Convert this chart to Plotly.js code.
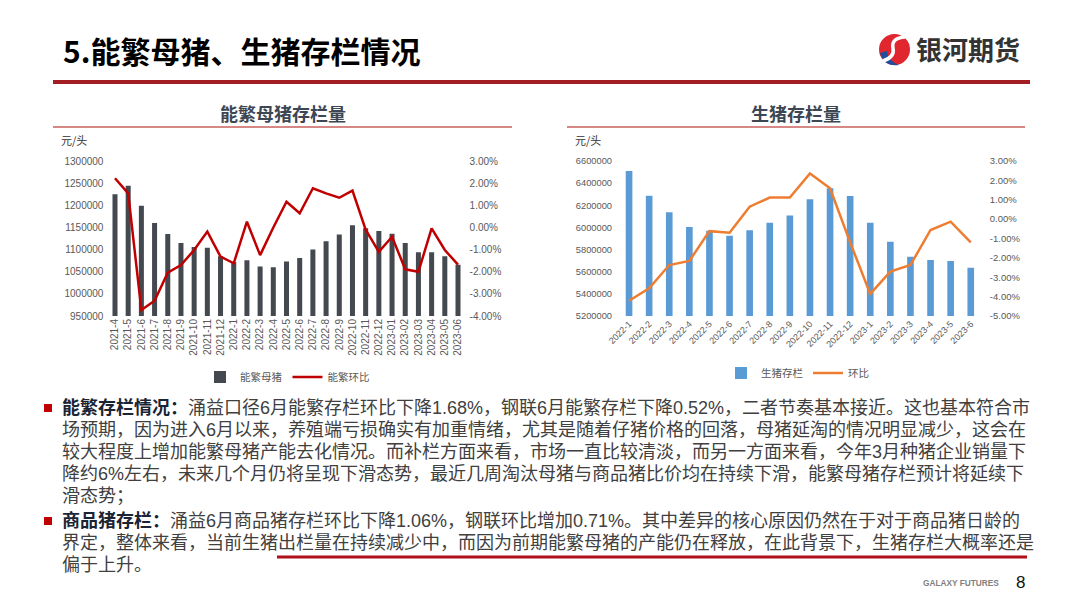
<!DOCTYPE html>
<html>
<head>
<meta charset="utf-8">
<script src="https://cdn.plot.ly/plotly-3.0.1.min.js"></script>
<style>
  html, body { margin: 0; padding: 0; background: #ffffff; }
  #wrap { position: relative; width: 1080px; height: 608px; overflow: hidden; }
  #page { position: absolute; left: 0; top: 0; width: 1080px; height: 608px; }
  .note { position: absolute; left: 62px; font-family: "Liberation Sans", "Noto Sans CJK SC", sans-serif;
          font-size: 18px; color: #404040; }
  .note .ln { height: 22px; line-height: 22px; white-space: nowrap; overflow: visible; }
  .note b { color: #1b2433; }
</style>
</head>
<body>
<div id="wrap">
  <div id="page"></div>
  <div class="note" id="sowNote" style="top:397px"></div>
  <div class="note" id="hogNote" style="top:510px"></div>
</div>
<script>
// 能繁母猪存栏 (元/头) and month-on-month change (%)
const sowMonths = ['2021-4','2021-5','2021-6','2021-7','2021-8','2021-9','2021-10','2021-11','2021-12',
  '2022-1','2022-2','2022-3','2022-4','2022-5','2022-6','2022-7','2022-8','2022-9','2022-10','2022-11','2022-12',
  '2023-01','2023-02','2023-03','2023-04','2023-05','2023-06'];
const sowStock = [1225000,1244000,1199000,1160000,1135000,1115000,1106000,1104000,1085000,
  1072000,1076000,1062000,1060000,1073000,1081000,1100000,1119000,1134000,1155000,1148000,1142000,
  1136000,1115000,1094000,1094000,1085000,1066000];
const sowMoM = [2.22,1.54,-3.73,-3.31,-2.04,-1.70,-1.02,-0.19,-1.32,
  -1.62,0.26,-1.25,0.00,1.16,0.64,1.77,1.54,1.34,1.66,-0.10,-1.10,
  -0.42,-1.89,-2.00,-0.04,-1.02,-1.68];

// 生猪存栏 and month-on-month change (%)
const hogMonths = ['2022-1','2022-2','2022-3','2022-4','2022-5','2022-6','2022-7','2022-8','2022-9',
  '2022-10','2022-11','2022-12','2023-1','2023-2','2023-3','2023-4','2023-5','2023-6'];
const hogStock = [6510000,6287000,6137000,6004000,5970000,5924000,5974000,6043000,6108000,
  6254000,6353000,6284000,6043000,5871000,5736000,5706000,5697000,5636000];
const hogMoM = [-4.21,-3.57,-2.37,-2.16,-0.62,-0.70,0.64,1.11,1.11,
  2.36,1.59,-1.20,-3.86,-2.71,-2.37,-0.56,-0.13,-1.20];

// axis tick values
const sowStockTicks = [950000,1000000,1050000,1100000,1150000,1200000,1250000,1300000];
const sowPctTicks = [-4,-3,-2,-1,0,1,2,3];
const hogStockTicks = [5200000,5400000,5600000,5800000,6000000,6200000,6400000,6600000];
const hogPctTicks = [-5,-4,-3,-2,-1,0,1,2,3];
const pctText = v => v.toFixed(2) + '%';

// page text
const pageTitle = '5.能繁母猪、生猪存栏情况';
const brandName = '银河期货';
const sowChartTitle = '能繁母猪存栏量';
const hogChartTitle = '生猪存栏量';
const unitLabel = '元/头';
const sowNoteLabel = '能繁存栏情况：';
const sowNoteLines = [
  '涌益口径6月能繁存栏环比下降1.68%，钢联6月能繁存栏下降0.52%，二者节奏基本接近。这也基本符合市',
  '场预期，因为进入6月以来，养殖端亏损确实有加重情绪，尤其是随着仔猪价格的回落，母猪延淘的情况明显减少，这会在',
  '较大程度上增加能繁母猪产能去化情况。而补栏方面来看，市场一直比较清淡，而另一方面来看，今年3月种猪企业销量下',
  '降约6%左右，未来几个月仍将呈现下滑态势，最近几周淘汰母猪与商品猪比价均在持续下滑，能繁母猪存栏预计将延续下',
  '滑态势；'
];
const hogNoteLabel = '商品猪存栏：';
const hogNoteLines = [
  '涌益6月商品猪存栏环比下降1.06%，钢联环比增加0.71%。其中差异的核心原因仍然在于对于商品猪日龄的',
  '界定，整体来看，当前生猪出栏量在持续减少中，而因为前期能繁母猪的产能仍在释放，在此背景下，生猪存栏大概率还是',
  '偏于上升。'
];

// commentary paragraphs, one block per line
function fillNote(id, label, lines) {
  const box = document.getElementById(id);
  lines.forEach((t, i) => {
    const d = document.createElement('div');
    d.className = 'ln';
    if (i === 0) {
      const b = document.createElement('b');
      b.textContent = label;
      d.appendChild(b);
    }
    d.appendChild(document.createTextNode(t));
    box.appendChild(d);
  });
}
fillNote('sowNote', sowNoteLabel, sowNoteLines);
fillNote('hogNote', hogNoteLabel, hogNoteLines);

// pixel -> paper helpers for the 1080x608 page
const W = 1080, H = 608;
const px = x => x / W;
const py = y => 1 - y / H;

const CJK = 'Noto Sans CJK SC, Noto Sans, sans-serif';
const NUM = 'Liberation Sans, Arial, sans-serif';
const tickGray = '#595959';

const traces = [
  { type: 'bar', name: '能繁母猪', x: sowMonths, y: sowStock, xaxis: 'x', yaxis: 'y',
    marker: { color: '#44484f' }, width: 0.38, legend: 'legend' },
  { type: 'scatter', mode: 'lines', name: '能繁环比', x: sowMonths, y: sowMoM, xaxis: 'x', yaxis: 'y2',
    line: { color: '#c00000', width: 2.5 }, legend: 'legend' },
  { type: 'bar', name: '生猪存栏', x: hogMonths, y: hogStock, xaxis: 'x2', yaxis: 'y3',
    marker: { color: '#5b9bd5' }, width: 0.33, legend: 'legend2' },
  { type: 'scatter', mode: 'lines', name: '环比', x: hogMonths, y: hogMoM, xaxis: 'x2', yaxis: 'y4',
    line: { color: '#ed7d31', width: 2.5 }, legend: 'legend2' }
];

const plotTop = 161, plotBottom = 316;
const yDom = [py(plotBottom), py(plotTop)];

function rule(x0, x1, y, color, width) {
  return { type: 'line', xref: 'paper', yref: 'paper', x0: px(x0), x1: px(x1), y0: py(y), y1: py(y),
    line: { color: color, width: width } };
}
function pPath(cmds) {
  // cmds: [letter, x, y, x, y, ...] in page pixels
  return cmds.map(c => c[0] + ' ' + c.slice(1).map((v, i) => (i % 2 === 0 ? px(v) : py(v)).toFixed(5)).join(',')).join(' ');
}

const shapes = [
  rule(53, 1030, 82, '#a31d24', 4),
  rule(53, 512, 127, '#c9605c', 1.5),
  rule(567, 1025, 127, '#c9605c', 1.5),
  rule(277, 1027, 557, '#b0101a', 3),
  // bullets
  { type: 'rect', xref: 'paper', yref: 'paper', x0: px(44), x1: px(52), y0: py(412), y1: py(404),
    fillcolor: '#c00000', line: { width: 0 } },
  { type: 'rect', xref: 'paper', yref: 'paper', x0: px(44), x1: px(52), y0: py(525), y1: py(517),
    fillcolor: '#c00000', line: { width: 0 } },
  // brand mark
  { type: 'circle', xref: 'paper', yref: 'paper', x0: px(879), x1: px(910), y0: py(65), y1: py(34),
    fillcolor: '#e0262f', line: { width: 0 } },
  { type: 'path', xref: 'paper', yref: 'paper',
    path: pPath([['M', 880, 53], ['Q', 884, 67, 899, 65], ['Q', 888, 61, 887, 51], ['Z']]),
    fillcolor: '#1f4e9c', line: { width: 0 } },
  { type: 'path', xref: 'paper', yref: 'paper',
    path: pPath([['M', 905, 37], ['Q', 891, 38, 893, 48], ['Q', 895, 57, 883, 61]]),
    line: { color: '#ffffff', width: 3.5 } }
];

const annotations = [
  { text: '<b>' + pageTitle + '</b>', x: px(62), y: py(50), xanchor: 'left', yanchor: 'middle',
    font: { family: CJK, size: 30, color: '#000000' } },
  { text: '<b>' + brandName + '</b>', x: px(915), y: py(49), xanchor: 'left', yanchor: 'middle',
    font: { family: CJK, size: 26, color: '#333333' } },
  { text: '<b>' + sowChartTitle + '</b>', x: px(283), y: py(113), xanchor: 'center', yanchor: 'middle',
    font: { family: CJK, size: 18, color: '#3d4754' } },
  { text: '<b>' + hogChartTitle + '</b>', x: px(796), y: py(113), xanchor: 'center', yanchor: 'middle',
    font: { family: CJK, size: 18, color: '#3d4754' } },
  { text: unitLabel, x: px(60), y: py(140), xanchor: 'left', yanchor: 'middle',
    font: { family: CJK, size: 11, color: '#333333' } },
  { text: unitLabel, x: px(574), y: py(140), xanchor: 'left', yanchor: 'middle',
    font: { family: CJK, size: 11, color: '#333333' } },
  { text: '<b>GALAXY FUTURES</b>', x: px(922), y: py(583), xanchor: 'left', yanchor: 'middle',
    font: { family: NUM, size: 8.3, color: '#7f7f7f' } },
  { text: '8', x: px(1020), y: py(582), xanchor: 'center', yanchor: 'middle',
    font: { family: NUM, size: 17, color: '#111111' } }
];
annotations.forEach(a => { a.xref = 'paper'; a.yref = 'paper'; a.showarrow = false; a.borderpad = 0; });

const layout = {
  width: W, height: H,
  margin: { l: 0, r: 0, t: 0, b: 0 },
  paper_bgcolor: '#ffffff', plot_bgcolor: 'rgba(0,0,0,0)',
  font: { family: NUM, color: tickGray },
  showlegend: true,
  xaxis: { domain: [px(108.4), px(464.6)], anchor: 'y', type: 'category', range: [-0.5, 26.5],
    tickangle: -90, tickfont: { family: NUM, size: 10, color: tickGray }, showgrid: false,
    showline: false, ticks: '', zeroline: false },
  yaxis: { domain: yDom, anchor: 'x', range: [950000, 1300000], tickvals: sowStockTicks,
    ticktext: sowStockTicks.map(String), showgrid: false, zeroline: false, showline: false,
    tickfont: { family: NUM, size: 10, color: tickGray }, ticklabelstandoff: 4 },
  yaxis2: { overlaying: 'y', side: 'right', anchor: 'x', range: [-4, 3], tickvals: sowPctTicks,
    ticktext: sowPctTicks.map(pctText), showgrid: false, zeroline: false, showline: false,
    tickfont: { family: NUM, size: 10, color: tickGray }, ticklabelstandoff: 4 },
  xaxis2: { domain: [px(619), px(980.8)], anchor: 'y3', type: 'category', range: [-0.5, 17.5],
    tickangle: -45, tickfont: { family: NUM, size: 9, color: tickGray }, showgrid: false,
    showline: false, ticks: '', zeroline: false },
  yaxis3: { domain: yDom, anchor: 'x2', range: [5200000, 6600000], tickvals: hogStockTicks,
    ticktext: hogStockTicks.map(String), showgrid: false, zeroline: false, showline: false,
    tickfont: { family: NUM, size: 9.3, color: tickGray }, ticklabelstandoff: 6 },
  yaxis4: { overlaying: 'y3', side: 'right', anchor: 'x2', range: [-5, 3], tickvals: hogPctTicks,
    ticktext: hogPctTicks.map(pctText), showgrid: false, zeroline: false, showline: false,
    tickfont: { family: NUM, size: 9.5, color: tickGray }, ticklabelstandoff: 8 },
  legend: { orientation: 'h', x: px(200), y: py(377), xanchor: 'left', yanchor: 'middle',
    font: { family: CJK, size: 10.5, color: tickGray }, itemwidth: 30, bgcolor: 'rgba(0,0,0,0)' },
  legend2: { orientation: 'h', x: px(721), y: py(373), xanchor: 'left', yanchor: 'middle',
    font: { family: CJK, size: 10.5, color: tickGray }, itemwidth: 30, bgcolor: 'rgba(0,0,0,0)' },
  shapes: shapes,
  annotations: annotations
};

Plotly.newPlot('page', traces, layout, { staticPlot: true, displayModeBar: false });
</script>
</body>
</html>
